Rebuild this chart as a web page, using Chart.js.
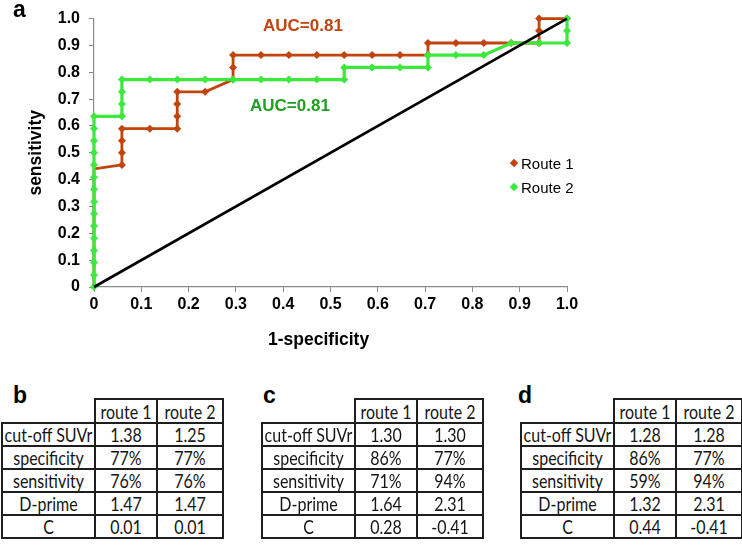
<!DOCTYPE html>
<html>
<head>
<meta charset="utf-8">
<script src="https://cdn.jsdelivr.net/npm/chart.js@4.4.1/dist/chart.umd.min.js"></script>
<style>
html,body{margin:0;padding:0;background:#fff;}
body{width:742px;height:546px;position:relative;overflow:hidden;font-family:"Liberation Sans",Arial,sans-serif;}
#wrap{position:absolute;left:0;top:0;width:742px;height:370px;}
.lbl{position:absolute;font-weight:bold;white-space:nowrap;line-height:1;}
.leg{position:absolute;font-size:15px;line-height:1;white-space:nowrap;color:#000;}
.dia{position:absolute;width:6px;height:6px;transform:rotate(45deg);}
table.t{position:absolute;top:398px;border-collapse:collapse;table-layout:fixed;width:221px;font-family:Lato,"Noto Sans",sans-serif;font-size:16px;color:#151515;}
table.t td{border:2px solid #1e1e1e;text-align:center;padding:0;height:21px;line-height:21px;white-space:nowrap;overflow:hidden;}
table.t td span{display:inline-block;transform:scaleY(1.18);}
table.t td.blank{border:none;}
</style>
</head>
<body>
<div id="wrap"><canvas id="c" width="742" height="370"></canvas></div>

<div class="lbl" style="left:13px;top:-2px;font-size:23px;">a</div>
<div class="lbl" id="auc1" style="left:263px;top:17px;font-size:17px;color:#c1440e;">AUC=0.81</div>
<div class="lbl" id="auc2" style="left:250px;top:97px;font-size:17px;color:#1f9f1f;">AUC=0.81</div>
<div class="lbl" id="xtitle" style="left:268px;top:331px;font-size:17.5px;color:#000;">1-specificity</div>

<div class="dia" style="left:511px;top:160px;background:#c1440e;"></div>
<div class="leg" id="leg1" style="left:521px;top:156px;"></div>
<div class="dia" style="left:511px;top:184px;background:#3de83d;"></div>
<div class="leg" id="leg2" style="left:521px;top:180px;"></div>

<div class="lbl" style="left:13px;top:384px;font-size:23px;">b</div>
<div class="lbl" style="left:263px;top:384px;font-size:23px;">c</div>
<div class="lbl" style="left:518px;top:384px;font-size:23px;">d</div>

<script>
// ---- chart data ----
const xTickLabels = ['0','0.1','0.2','0.3','0.4','0.5','0.6','0.7','0.8','0.9','1.0'];
const yTickLabels = ['0','0.1','0.2','0.3','0.4','0.5','0.6','0.7','0.8','0.9','1.0'];
const seriesNames = ['Route 1','Route 2'];

const route1X = [0, 0, 0.059, 0.059, 0.059, 0.059, 0.118, 0.176, 0.176, 0.176, 0.176, 0.235, 0.294, 0.294, 0.294, 0.353, 0.412, 0.471, 0.529, 0.588, 0.647, 0.706, 0.706, 0.765, 0.824, 0.882, 0.941, 0.941, 0.941, 1];
const route1Y = [0, 0.44, 0.455, 0.50, 0.545, 0.59, 0.59, 0.59, 0.636, 0.682, 0.727, 0.727, 0.773, 0.818, 0.864, 0.864, 0.864, 0.864, 0.864, 0.864, 0.864, 0.864, 0.909, 0.909, 0.909, 0.909, 0.909, 0.955, 1.0, 1.0];

const route2X = [0, 0, 0, 0, 0, 0, 0, 0, 0, 0, 0, 0, 0, 0, 0, 0.059, 0.059, 0.059, 0.059, 0.118, 0.176, 0.235, 0.294, 0.353, 0.412, 0.471, 0.529, 0.529, 0.588, 0.647, 0.706, 0.706, 0.765, 0.824, 0.882, 0.941, 1, 1, 1];
const route2Y = [0, 0.045, 0.091, 0.136, 0.182, 0.227, 0.273, 0.318, 0.364, 0.409, 0.455, 0.5, 0.545, 0.591, 0.636, 0.636, 0.682, 0.727, 0.773, 0.773, 0.773, 0.773, 0.773, 0.773, 0.773, 0.773, 0.773, 0.818, 0.818, 0.818, 0.818, 0.864, 0.864, 0.864, 0.909, 0.909, 0.909, 0.955, 1.0];

const chanceX = [0, 1];
const chanceY = [0, 1];

// ---- table data ----
const tableHeader = ['route 1', 'route 2'];
const tableRows = ['cut-off SUVr', 'specificity', 'sensitivity', 'D-prime', 'C'];
const tableB_route1 = ['1.38', '77%', '76%', '1.47', '0.01'];
const tableB_route2 = ['1.25', '77%', '76%', '1.47', '0.01'];
const tableC_route1 = ['1.30', '86%', '71%', '1.64', '0.28'];
const tableC_route2 = ['1.30', '77%', '94%', '2.31', '-0.41'];
const tableD_route1 = ['1.28', '86%', '59%', '1.32', '0.44'];
const tableD_route2 = ['1.28', '77%', '94%', '2.31', '-0.41'];

const RED = '#c1440e';
const GREEN = '#3de83d';

document.getElementById('leg1').textContent = seriesNames[0];
document.getElementById('leg2').textContent = seriesNames[1];

function cell(text) {
  const td = document.createElement('td');
  const sp = document.createElement('span');
  sp.textContent = text;
  td.appendChild(sp);
  return td;
}
function makeTable(left, r1, r2) {
  const t = document.createElement('table');
  t.className = 't';
  t.style.left = left + 'px';
  const cg = document.createElement('colgroup');
  [93, 62, 66].forEach(w => { const c = document.createElement('col'); c.style.width = w + 'px'; cg.appendChild(c); });
  t.appendChild(cg);
  const hr = document.createElement('tr');
  const blank = document.createElement('td'); blank.className = 'blank'; hr.appendChild(blank);
  tableHeader.forEach(h => { const td = cell(h); td.style.height = '22px'; hr.appendChild(td); });
  t.appendChild(hr);
  tableRows.forEach((name, i) => {
    const tr = document.createElement('tr');
    [name, r1[i], r2[i]].forEach(v => tr.appendChild(cell(v)));
    t.appendChild(tr);
  });
  document.body.appendChild(t);
}
makeTable(1, tableB_route1, tableB_route2);
makeTable(261, tableC_route1, tableC_route2);
makeTable(520, tableD_route1, tableD_route2);

const toPts = (xs, ys) => xs.map((x, i) => ({x: x, y: ys[i]}));
const tickFont = {family: '"Liberation Sans", Arial, sans-serif', size: 16, weight: 'bold'};

new Chart(document.getElementById('c'), {
  type: 'scatter',
  data: {
    datasets: [
      {label: 'chance', data: toPts(chanceX, chanceY), showLine: true, borderColor: '#000', borderWidth: 2.6, pointRadius: 0, order: 0, clip: false},
      {label: seriesNames[1], data: toPts(route2X, route2Y), showLine: true, borderColor: GREEN, backgroundColor: GREEN, borderWidth: 3.2, pointStyle: 'rectRot', pointRadius: 4, pointBorderWidth: 0, order: 1, clip: false},
      {label: seriesNames[0], data: toPts(route1X, route1Y), showLine: true, borderColor: RED, backgroundColor: RED, borderWidth: 2.8, pointStyle: 'rectRot',
        pointRadius: ctx => (route1X[ctx.dataIndex] === 0 ? 0 : 4), pointBorderWidth: 0, order: 2, clip: false}
    ]
  },
  options: {
    responsive: false,
    animation: false,
    layout: {padding: {left: 0, top: 15, right: 175, bottom: 0}},
    plugins: {legend: {display: false}, tooltip: {enabled: false}},
    elements: {line: {tension: 0}},
    scales: {
      x: {
        type: 'linear', min: 0, max: 1,
        afterBuildTicks: s => { s.ticks = xTickLabels.map(t => ({value: parseFloat(t)})); },
        afterFit: s => { s.height = 83; },
        ticks: {callback: (v, i) => xTickLabels[i], font: tickFont, color: '#000', padding: 3, maxRotation: 0, autoSkip: false},
        grid: {drawOnChartArea: false, drawTicks: true, tickLength: 5, color: '#8a8a8a'},
        border: {display: true, color: '#8a8a8a', width: 1.2}
      },
      y: {
        type: 'linear', min: 0, max: 1,
        afterBuildTicks: s => { s.ticks = yTickLabels.map(t => ({value: parseFloat(t)})); },
        afterFit: s => { s.width = 94; },
        ticks: {callback: (v, i) => yTickLabels[i], font: tickFont, color: '#000', padding: 9, autoSkip: false},
        grid: {drawOnChartArea: false, drawTicks: true, tickLength: 5, color: '#8a8a8a'},
        border: {display: true, color: '#8a8a8a', width: 1.2},
        title: {display: true, text: 'sensitivity', color: '#000', font: {family: '"Liberation Sans", Arial, sans-serif', size: 17.5, weight: 'bold'}, padding: {top: 26, bottom: 0}}
      }
    }
  }
});
</script>
</body>
</html>
